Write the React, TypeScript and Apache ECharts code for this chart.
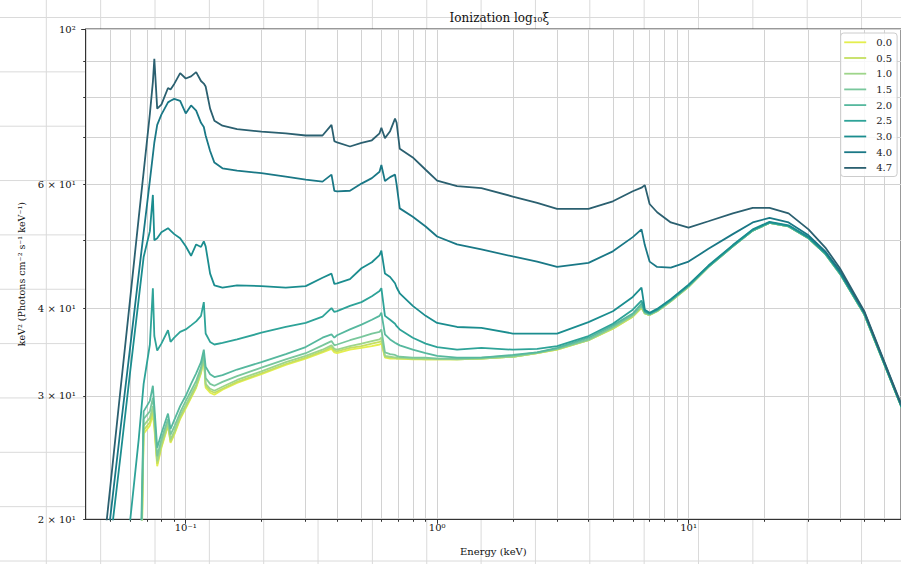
import React, { useEffect, useRef } from "react";
import * as echarts from "echarts";

// ---------------- data ----------------
const energyKeV = [
  0.045, 0.05, 0.055, 0.06, 0.065, 0.068, 0.072, 0.074, 0.075, 0.077,
  0.08, 0.085, 0.087, 0.09, 0.095, 0.1, 0.105, 0.11, 0.115, 0.118,
  0.12, 0.125, 0.13, 0.14, 0.16, 0.2, 0.25, 0.3, 0.35, 0.38,
  0.39, 0.4, 0.45, 0.5, 0.55, 0.59, 0.6, 0.62, 0.65, 0.68,
  0.69, 0.71, 0.8, 0.9, 1.0, 1.2, 1.5, 2, 2.5, 3,
  4, 5, 6, 6.5, 6.7, 7.0, 7.5, 8.5, 10, 12,
  15, 18, 21, 25, 30, 35, 40, 50, 60, 72,
];

const xi00 = [
  3.5, 4.5, 6.0, 7.5, 10.0, 26.5, 27.2, 28.2, 27.0, 23.8,
  25.3, 27.2, 25.7, 26.4, 27.8, 28.8, 29.8, 30.8, 32.3, 34.0,
  30.8, 30.3, 30.1, 30.6, 31.3, 32.2, 33.2, 33.9, 34.6, 35.0,
  34.6, 34.5, 34.9, 35.1, 35.3, 35.5, 35.6, 34.0, 33.9, 33.9,
  33.9, 33.9, 33.8, 33.8, 33.8, 33.8, 33.9, 34.1, 34.5, 34.9,
  36.0, 37.4, 38.9, 40.0, 39.3, 39.1, 39.6, 40.9, 42.9, 45.8,
  49.0, 51.6, 52.9, 52.3, 50.3, 47.8, 44.8, 39.2, 33.3, 28.3,
];
const xi05 = [
  3.8, 4.8, 6.2, 8.0, 10.5, 26.8, 27.5, 28.6, 27.3, 24.0,
  25.4, 27.3, 25.8, 26.5, 27.9, 28.9, 29.9, 30.9, 32.4, 34.1,
  31.0, 30.5, 30.3, 30.7, 31.4, 32.3, 33.3, 34.0, 34.7, 35.2,
  34.8, 34.7, 35.1, 35.3, 35.6, 35.8, 35.9, 34.1, 34.0, 34.0,
  33.9, 33.9, 33.9, 33.8, 33.8, 33.8, 33.9, 34.1, 34.5, 34.9,
  36.0, 37.4, 38.9, 40.1, 39.3, 39.1, 39.6, 40.9, 42.9, 45.8,
  49.0, 51.6, 52.9, 52.3, 50.3, 47.8, 44.8, 39.2, 33.3, 28.3,
];
const xi10 = [
  4.0, 5.0, 6.5, 8.5, 11.0, 27.2, 27.9, 29.0, 27.6, 24.2,
  25.6, 27.5, 26.0, 26.7, 28.1, 29.1, 30.1, 31.1, 32.6, 34.2,
  31.2, 30.7, 30.5, 30.9, 31.6, 32.5, 33.5, 34.2, 34.9, 35.4,
  35.0, 34.9, 35.3, 35.6, 35.9, 36.1, 36.3, 34.2, 34.1, 34.0,
  34.0, 34.0, 33.9, 33.9, 33.9, 33.8, 33.9, 34.1, 34.5, 35.0,
  36.0, 37.5, 39.0, 40.2, 39.3, 39.1, 39.6, 40.9, 42.9, 45.8,
  49.0, 51.6, 52.9, 52.3, 50.3, 47.8, 44.8, 39.2, 33.3, 28.3,
];
const xi15 = [
  4.5, 5.5, 7.0, 9.0, 12.0, 27.8, 28.5, 29.8, 28.2, 24.6,
  26.0, 27.8, 26.4, 27.1, 28.4, 29.5, 30.5, 31.5, 32.9, 34.5,
  31.8, 31.2, 31.0, 31.4, 32.0, 32.9, 33.8, 34.5, 35.4, 35.9,
  35.4, 35.5, 36.0, 36.4, 36.8, 37.0, 37.3, 34.6, 34.4, 34.3,
  34.2, 34.1, 34.0, 34.0, 33.9, 33.9, 34.0, 34.2, 34.6, 35.0,
  36.1, 37.6, 39.1, 40.3, 39.4, 39.2, 39.7, 41.0, 43.0, 45.8,
  49.0, 51.6, 52.9, 52.3, 50.3, 47.8, 44.8, 39.2, 33.3, 28.3,
];
const xi20 = [
  5.0, 6.0, 7.5, 9.5, 13.0, 28.5, 29.5, 31.0, 29.0, 25.3,
  26.5, 28.3, 26.9, 27.7, 29.0, 30.0, 31.2, 32.3, 33.5, 34.9,
  33.0, 32.2, 31.9, 32.1, 32.7, 33.5, 34.4, 35.2, 36.3, 36.7,
  36.3, 36.6, 37.3, 37.9, 38.5, 39.0, 39.4, 36.7, 36.1, 35.7,
  35.6, 35.4, 34.9, 34.5, 34.2, 34.0, 34.0, 34.3, 34.6, 35.1,
  36.3, 37.8, 39.3, 40.6, 39.5, 39.2, 39.7, 41.0, 43.0, 45.8,
  49.0, 51.6, 52.9, 52.3, 50.3, 47.8, 44.8, 39.2, 33.3, 28.3,
];
const xi25 = [
  8.0, 11.0, 14.5, 19.8, 26.0, 31.2, 35.5, 42.7, 36.5, 34.8,
  35.6, 37.2, 35.8, 36.3, 37.0, 37.3, 37.8, 38.3, 39.0, 40.8,
  36.8, 35.8, 35.5, 35.7, 36.1, 36.9, 37.6, 38.1, 38.9, 40.0,
  39.5, 39.6, 40.3, 40.8, 41.6, 42.3, 42.7, 39.0, 38.5, 38.0,
  37.7, 37.3, 36.3, 35.6, 35.2, 34.9, 35.1, 34.9, 35.0, 35.3,
  36.5, 38.0, 39.8, 41.0, 39.6, 39.3, 39.8, 41.1, 43.1, 45.9,
  49.1, 51.7, 53.0, 52.4, 50.4, 47.9, 44.9, 39.3, 33.4, 28.3,
];
const xi30 = [
  11.5, 18.4, 24.6, 32.3, 41.2, 47.3, 51.5, 58.0, 50.0, 50.3,
  51.3, 52.0, 51.6, 51.0, 50.3, 49.0, 47.5, 49.3, 48.9, 49.8,
  49.0, 44.8, 43.1, 42.8, 43.1, 43.0, 42.8, 43.0, 44.2, 44.8,
  43.3, 43.4, 44.0, 45.6, 46.5, 47.6, 48.3, 44.8, 44.3, 43.4,
  42.8, 42.0, 40.3, 39.0, 38.1, 37.6, 37.5, 36.8, 36.8, 36.8,
  38.2, 39.6, 41.5, 42.8, 39.8, 39.4, 39.9, 41.2, 43.2, 46.0,
  49.2, 51.8, 53.1, 52.5, 50.5, 48.0, 45.0, 39.4, 33.4, 28.4,
];
const xi40 = [
  14.6, 20.0, 26.9, 35.0, 44.7, 51.2, 60.8, 66.1, 68.9, 73.0,
  75.5, 78.6, 79.0, 79.5, 79.0, 75.8, 77.8, 76.5, 73.5, 72.5,
  70.5, 67.0, 64.5, 63.3, 62.8, 62.3, 61.6, 61.0, 60.6, 62.0,
  58.8, 58.7, 58.8, 60.2, 61.3, 62.6, 64.0, 60.7, 61.5, 62.0,
  60.0, 55.5, 54.0, 52.3, 50.6, 49.3, 48.5, 47.4, 46.6, 45.8,
  46.4, 48.2, 50.5, 51.8, 49.2, 46.6, 45.8, 45.7, 46.6, 48.6,
  51.0, 53.0, 53.8, 53.0, 50.8, 48.2, 45.2, 39.5, 33.5, 28.4,
];
const xi47 = [
  15.5, 22.1, 30.6, 41.0, 53.8, 62.5, 75.7, 84.0, 90.7, 77.0,
  78.0, 82.4, 82.0, 83.5, 86.5, 85.0, 85.6, 86.8, 84.3, 83.6,
  82.8, 77.0, 74.0, 72.8, 72.0, 71.4, 71.0, 70.5, 70.5, 73.0,
  69.2, 68.9, 68.0, 68.8, 69.4, 71.0, 72.3, 69.9, 71.5, 74.5,
  73.5, 67.5, 65.6, 63.0, 60.8, 59.7, 59.3, 57.7, 56.5, 55.4,
  55.4, 56.8, 58.7, 59.4, 59.9, 56.3, 54.8, 53.0, 52.1, 53.2,
  54.6, 55.6, 55.6, 54.6, 51.8, 48.8, 45.6, 39.6, 33.6, 28.5,
];

const seriesNames = ["0.0", "0.5", "1.0", "1.5", "2.0", "2.5", "3.0", "4.0", "4.7"];
const seriesValues = [xi00, xi05, xi10, xi15, xi20, xi25, xi30, xi40, xi47];
const seriesColors = [
  "#e4ee4e", "#c5df60", "#9ed58a", "#79c79c", "#56b89e",
  "#2ea398", "#1b8d8f", "#1a7886", "#2b6070",
];

const xMajorTicks = [0.1, 1, 10];
const xMajorLabels = ["10⁻¹", "10⁰", "10¹"];
const xMinorTicks = [
  0.05, 0.06, 0.07, 0.08, 0.09,
  0.2, 0.3, 0.4, 0.5, 0.6, 0.7, 0.8, 0.9,
  2, 3, 4, 5, 6, 7, 8, 9,
  20, 30, 40, 50, 60,
];
const yMajorTicks = [100];
const yMinorTicks = [20, 30, 40, 50, 60, 70, 80, 90];
const yLabelTicks = [20, 30, 40, 60, 100];
const yLabelTexts = ["2 × 10¹", "3 × 10¹", "4 × 10¹", "6 × 10¹", "10²"];

const X_MIN = 0.04;
const X_MAX = 70;
const Y_MIN = 20;
const Y_MAX = 100;

// ---------------- helpers ----------------
const lg = (v: number) => Math.log10(v);
const FONT = "'DejaVu Serif', serif";
const GRID_COLOR = "#d2d2d2";
const AXIS_COLOR = "#333";

function labelFor(ticks: number[], labels: string[]) {
  return (v: number) => {
    for (let i = 0; i < ticks.length; i++) {
      if (Math.abs(lg(ticks[i]) - v) < 1e-6) return labels[i];
    }
    return "";
  };
}

function buildOverlay() {
  const step = 54.35;
  const els: any[] = [];
  for (let x = 46.3; x < 901; x += step) {
    els.push({
      type: "line", z: -10, silent: true,
      shape: { x1: x, y1: 0, x2: x, y2: 564 },
      style: { stroke: "#dadada", lineWidth: 1 },
    });
  }
  for (let y = 17.5; y < 564; y += step) {
    els.push({
      type: "line", z: -10, silent: true,
      shape: { x1: 0, y1: y, x2: 901, y2: y },
      style: { stroke: "#dadada", lineWidth: 1 },
    });
  }
  return els;
}

export default function App() {
  const ref = useRef<HTMLDivElement>(null);

  useEffect(() => {
    if (!ref.current) return;
    const chart = echarts.init(ref.current, undefined, { renderer: "svg" });

    const series = seriesNames.map((name, k) => ({
      type: "line",
      name,
      xAxisIndex: 0,
      yAxisIndex: 0,
      data: energyKeV.map((e, i) => [lg(e), lg(seriesValues[k][i])]),
      showSymbol: false,
      symbol: "none",
      clip: true,
      z: 3,
      lineStyle: { color: seriesColors[k], width: 1.8 },
      itemStyle: { color: seriesColors[k] },
    }));

    const tickLine = { color: AXIS_COLOR, width: 1 };

    chart.setOption({
      animation: false,
      graphic: { elements: buildOverlay() },
      title: {
        text: "Ionization log₁₀ξ",
        left: 494.3,
        top: 7,
        textAlign: "center",
        textStyle: { fontFamily: FONT, fontSize: 12, fontWeight: "normal", color: "#111" },
      },
      legend: {
        orient: "vertical",
        left: 840.7,
        top: 33,
        data: seriesNames,
        itemWidth: 22,
        itemHeight: 12,
        itemGap: 3.7,
        itemStyle: { opacity: 0 },
        lineStyle: { width: 1.8 },
        padding: [3.3, 5, 2.6, 2.6],
        borderColor: "#cccccc",
        borderWidth: 1,
        borderRadius: 3,
        backgroundColor: "rgba(255,255,255,0.85)",
        textStyle: { fontFamily: FONT, fontSize: 10, color: "#222", lineHeight: 12, padding: [0, 0, 0, 5] },
      },
      grid: {
        left: 85.7,
        right: -2,
        top: 29,
        bottom: 44.7,
        show: true,
        backgroundColor: "#ffffff",
        borderColor: AXIS_COLOR,
        borderWidth: 1,
      },
      xAxis: [
        {
          type: "value",
          min: lg(X_MIN),
          max: lg(X_MAX),
          position: "bottom",
          name: "Energy (keV)",
          nameLocation: "middle",
          nameGap: 27,
          nameTextStyle: { fontFamily: FONT, fontSize: 10, color: "#111" },
          axisLine: { show: true, onZero: false, lineStyle: tickLine },
          axisTick: { show: true, customValues: xMajorTicks.map(lg), length: 4.5, lineStyle: tickLine },
          axisLabel: {
            customValues: xMajorTicks.map(lg),
            formatter: labelFor(xMajorTicks, xMajorLabels),
            margin: 3,
            fontFamily: FONT,
            fontSize: 10,
            color: "#111",
          },
          splitLine: { show: true, lineStyle: { color: GRID_COLOR, width: 1 } },
        },
        {
          type: "value",
          min: lg(X_MIN),
          max: lg(X_MAX),
          position: "bottom",
          axisLine: { show: false, onZero: false },
          axisTick: { show: true, customValues: xMinorTicks.map(lg), length: 2.5, lineStyle: tickLine },
          axisLabel: { show: false },
          splitLine: { show: true, lineStyle: { color: GRID_COLOR, width: 1 } },
        },
      ],
      yAxis: [
        {
          type: "value",
          min: lg(Y_MIN),
          max: lg(Y_MAX),
          position: "left",
          name: "keV² (Photons cm⁻² s⁻¹ keV⁻¹)",
          nameLocation: "middle",
          nameGap: 57,
          nameTextStyle: { fontFamily: FONT, fontSize: 9.5, color: "#111" },
          axisLine: { show: true, onZero: false, lineStyle: tickLine },
          axisTick: { show: true, customValues: yMajorTicks.map(lg), length: 4.5, lineStyle: tickLine },
          axisLabel: {
            customValues: yLabelTicks.map(lg),
            formatter: labelFor(yLabelTicks, yLabelTexts),
            margin: 10,
            fontFamily: FONT,
            fontSize: 10,
            color: "#111",
          },
          splitLine: { show: true, lineStyle: { color: GRID_COLOR, width: 1 } },
        },
        {
          type: "value",
          min: lg(Y_MIN),
          max: lg(Y_MAX),
          position: "left",
          axisLine: { show: false, onZero: false },
          axisTick: { show: true, customValues: yMinorTicks.map(lg), length: 2.5, lineStyle: tickLine },
          axisLabel: { show: false },
          splitLine: { show: true, lineStyle: { color: GRID_COLOR, width: 1 } },
        },
      ],
      series,
    });

    return () => chart.dispose();
  }, []);

  return (
    <div
      ref={ref}
      style={{ position: "fixed", left: 0, top: 0, width: 901, height: 564, background: "#ffffff" }}
    />
  );
}
